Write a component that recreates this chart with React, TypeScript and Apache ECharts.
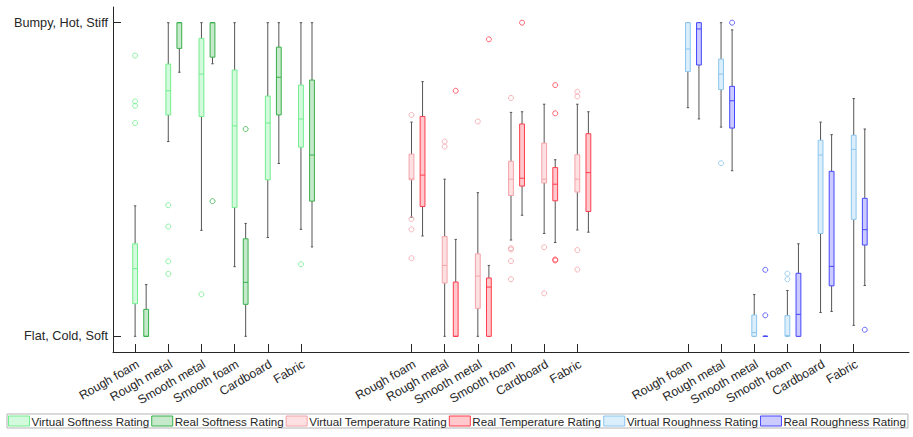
import React, { useEffect, useRef } from "react";
import * as echarts from "echarts";

// Surface categories shown in each rating group
const categories = ["Rough foam", "Rough metal", "Smooth metal", "Smooth foam", "Cardboard", "Fabric"];

// Y tick labels (0 = bottom, 1 = top)
const yTickLabels = ["Flat, Cold, Soft", "Bumpy, Hot, Stiff"];

// Five-number summaries per category: [min whisker, q1, median, q3, max whisker]
const virtualSoftness = [
  [0, 0.104, 0.216, 0.295, 0.416],
  [0.621, 0.706, 0.783, 0.868, 1.0],
  [0.338, 0.701, 0.836, 0.95, 1.0],
  [0.222, 0.411, 0.671, 0.849, 1.0],
  [0.315, 0.499, 0.68, 0.766, 1.0],
  [0.341, 0.603, 0.693, 0.801, 1.0],
];
const virtualSoftnessOutliers = [[0.895, 0.749, 0.735, 0.68], [0.418, 0.35, 0.239, 0.199], [0.134], [], [], [0.23]];

const realSoftness = [
  [0, 0, 0, 0.086, 0.165],
  [0.842, 0.918, 1.0, 1.0, 1.0],
  [0.869, 0.89, 1.0, 1.0, 1.0],
  [0, 0.102, 0.172, 0.311, 0.36],
  [0.551, 0.706, 0.826, 0.922, 1.0],
  [0.285, 0.431, 0.578, 0.817, 1.0],
];
const realSoftnessOutliers = [[], [], [0.431], [0.661], [], []];

const virtualTemperature = [
  [0.38, 0.499, 0.502, 0.581, 0.683],
  [0, 0.17, 0.226, 0.318, 0.501],
  [0, 0.089, 0.192, 0.263, 0.458],
  [0.307, 0.449, 0.501, 0.558, 0.714],
  [0.328, 0.489, 0.501, 0.616, 0.74],
  [0.339, 0.46, 0.501, 0.579, 0.74],
];
const virtualTemperatureOutliers = [
  [0.706, 0.374, 0.341, 0.249],
  [0.621, 0.605],
  [0.685],
  [0.76, 0.281, 0.277, 0.24, 0.182],
  [0.284, 0.137],
  [0.78, 0.765, 0.275, 0.213],
];

const realTemperature = [
  [0.32, 0.414, 0.514, 0.701, 0.812],
  [0, 0, 0, 0.173, 0.309],
  [0, 0, 0.157, 0.186, 0.226],
  [0.386, 0.479, 0.504, 0.677, 0.716],
  [0.299, 0.432, 0.485, 0.538, 0.563],
  [0.332, 0.398, 0.522, 0.646, 0.716],
];
const realTemperatureOutliers = [[], [0.783], [0.947], [1.0], [0.801, 0.711, 0.245, 0.242], []];

const virtualRoughness = [
  [0.729, 0.844, 0.916, 1.0, 1.0],
  [0.667, 0.787, 0.836, 0.884, 1.0],
  [0, 0, 0.012, 0.068, 0.133],
  [0, 0, 0.003, 0.066, 0.146],
  [0.076, 0.328, 0.578, 0.625, 0.683],
  [0.035, 0.373, 0.596, 0.641, 0.758],
];
const virtualRoughnessOutliers = [[], [0.552], [], [0.2, 0.182], [], []];

const realRoughness = [
  [0.693, 0.865, 0.98, 1.0, 1.0],
  [0.528, 0.664, 0.751, 0.797, 0.977],
  [0, 0, 0, 0, 0],
  [0, 0, 0.07, 0.201, 0.295],
  [0.079, 0.161, 0.223, 0.526, 0.643],
  [0.162, 0.291, 0.34, 0.44, 0.661],
];
const realRoughnessOutliers = [[], [1.0], [0.212, 0.067], [], [], [0.021]];

// x layout: each group starts GROUP_STEP units after the previous one,
// categories are CAT_STEP units apart, real box sits one unit right of virtual box
const GROUP_STEP = 25;
const CAT_STEP = 3;

type SeriesDef = {
  name: string;
  group: number;
  offset: number;
  stats: number[][];
  outliers: number[][];
  fill: string;
  stroke: string;
};

const seriesDefs: SeriesDef[] = [
  { name: "Virtual Softness Rating", group: 0, offset: 0, stats: virtualSoftness, outliers: virtualSoftnessOutliers, fill: "#d3fadc", stroke: "#72ee8e" },
  { name: "Real Softness Rating", group: 0, offset: 1, stats: realSoftness, outliers: realSoftnessOutliers, fill: "#c6e9cb", stroke: "#38b04c" },
  { name: "Virtual Temperature Rating", group: 1, offset: 0, stats: virtualTemperature, outliers: virtualTemperatureOutliers, fill: "#fde1e2", stroke: "#f4a3a8" },
  { name: "Real Temperature Rating", group: 1, offset: 1, stats: realTemperature, outliers: realTemperatureOutliers, fill: "#ffc8cc", stroke: "#ff3d4d" },
  { name: "Virtual Roughness Rating", group: 2, offset: 0, stats: virtualRoughness, outliers: virtualRoughnessOutliers, fill: "#dbeefb", stroke: "#8cc6ee" },
  { name: "Real Roughness Rating", group: 2, offset: 1, stats: realRoughness, outliers: realRoughnessOutliers, fill: "#cbcbff", stroke: "#4646ff" },
];

const tickPositions: number[] = [];
const tickNames: Record<number, string> = {};
for (let g = 0; g < 3; g++) {
  categories.forEach((c, i) => {
    const p = g * GROUP_STEP + i * CAT_STEP;
    tickPositions.push(p);
    tickNames[p] = c;
  });
}

const FONT = "'Liberation Sans', Arial, sans-serif";
const TEXT = "#262626";

function makeRenderer(fill: string, stroke: string) {
  return (params: any, api: any) => {
    const x = api.value(0);
    const [cx, yLo] = api.coord([x, api.value(1)]);
    const yQ1 = api.coord([x, api.value(2)])[1];
    const yMed = api.coord([x, api.value(3)])[1];
    const yQ3 = api.coord([x, api.value(4)])[1];
    const yHi = api.coord([x, api.value(5)])[1];
    const half = 2.4;
    const cap = 1.2;
    const wStyle = { stroke: "#555555", lineWidth: 1 };
    return {
      type: "group",
      children: [
        { type: "line", shape: { x1: cx, y1: yHi, x2: cx, y2: yQ3 }, style: wStyle },
        { type: "line", shape: { x1: cx, y1: yQ1, x2: cx, y2: yLo }, style: wStyle },
        { type: "line", shape: { x1: cx - cap, y1: yHi, x2: cx + cap, y2: yHi }, style: wStyle },
        { type: "line", shape: { x1: cx - cap, y1: yLo, x2: cx + cap, y2: yLo }, style: wStyle },
        {
          type: "rect",
          shape: { x: cx - half, y: yQ3, width: half * 2, height: yQ1 - yQ3 },
          style: { fill, stroke, lineWidth: 1 },
        },
        { type: "line", shape: { x1: cx - half, y1: yMed, x2: cx + half, y2: yMed }, style: { stroke, lineWidth: 1 } },
      ],
    };
  };
}

export default function App() {
  const ref = useRef<HTMLDivElement>(null);

  useEffect(() => {
    if (!ref.current) return;
    const chart = echarts.init(ref.current, null, { renderer: "svg" });

    const series: any[] = [];
    seriesDefs.forEach((d) => {
      const boxData = d.stats.map((s, i) => [d.group * GROUP_STEP + i * CAT_STEP + d.offset, ...s]);
      const outData: number[][] = [];
      d.outliers.forEach((vals, i) => {
        vals.forEach((v) => outData.push([d.group * GROUP_STEP + i * CAT_STEP + d.offset, v]));
      });
      series.push({
        name: d.name,
        type: "custom",
        renderItem: makeRenderer(d.fill, d.stroke),
        encode: { x: 0, y: [1, 2, 3, 4, 5] },
        itemStyle: { color: d.fill, borderColor: d.stroke },
        data: boxData,
        silent: true,
      });
      series.push({
        name: d.name,
        type: "scatter",
        symbol: "circle",
        symbolSize: 5,
        itemStyle: { color: "rgba(0,0,0,0)", borderColor: d.stroke, borderWidth: 1 },
        data: outData,
        silent: true,
        z: 3,
      });
    });

    chart.setOption({
      animation: false,
      backgroundColor: "#ffffff",
      textStyle: { fontFamily: FONT },
      grid: { left: 113, right: 4, top: 7, bottom: 85 },
      xAxis: {
        type: "value",
        min: -2,
        max: 70,
        splitLine: { show: false },
        axisLine: { onZero: false, lineStyle: { color: TEXT, width: 1 } },
        axisTick: { inside: true, length: 8, customValues: tickPositions, lineStyle: { color: TEXT } },
        axisLabel: {
          customValues: tickPositions,
          rotate: 30,
          margin: 6,
          verticalAlign: "top",
          color: TEXT,
          fontSize: 12.3,
          fontFamily: FONT,
          formatter: (v: number) => tickNames[Math.round(v)] ?? "",
        },
      },
      yAxis: {
        type: "value",
        min: -0.05,
        max: 1.05,
        splitLine: { show: false },
        axisLine: { show: true, onZero: false, lineStyle: { color: TEXT, width: 1 } },
        axisTick: { show: true, inside: true, length: 8, customValues: [0, 1], lineStyle: { color: TEXT } },
        axisLabel: {
          customValues: [0, 1],
          margin: 5,
          color: TEXT,
          fontSize: 12.7,
          fontFamily: FONT,
          formatter: (v: number) => (Math.abs(v) < 1e-6 ? yTickLabels[0] : yTickLabels[1]),
        },
      },
      legend: {
        left: 7,
        top: 414,
        width: 905,
        orient: "horizontal",
        icon: "rect",
        itemWidth: 21,
        itemHeight: 10,
        itemGap: 2,
        padding: [1, 2, 1, 1],
        borderColor: "#b4b4b4",
        borderWidth: 1,
        textStyle: { color: TEXT, fontSize: 11.6, fontFamily: FONT, padding: [0, 0, 0, -3] },
        selectedMode: false,
        data: seriesDefs.map((d) => ({
          name: d.name,
          itemStyle: { color: d.fill, borderColor: d.stroke, borderWidth: 1 },
        })),
      },
      series,
    });

    return () => chart.dispose();
  }, []);

  return (
    <div
      ref={ref}
      style={{ position: "fixed", left: 0, top: 0, width: 913, height: 437, background: "#fff" }}
    />
  );
}
